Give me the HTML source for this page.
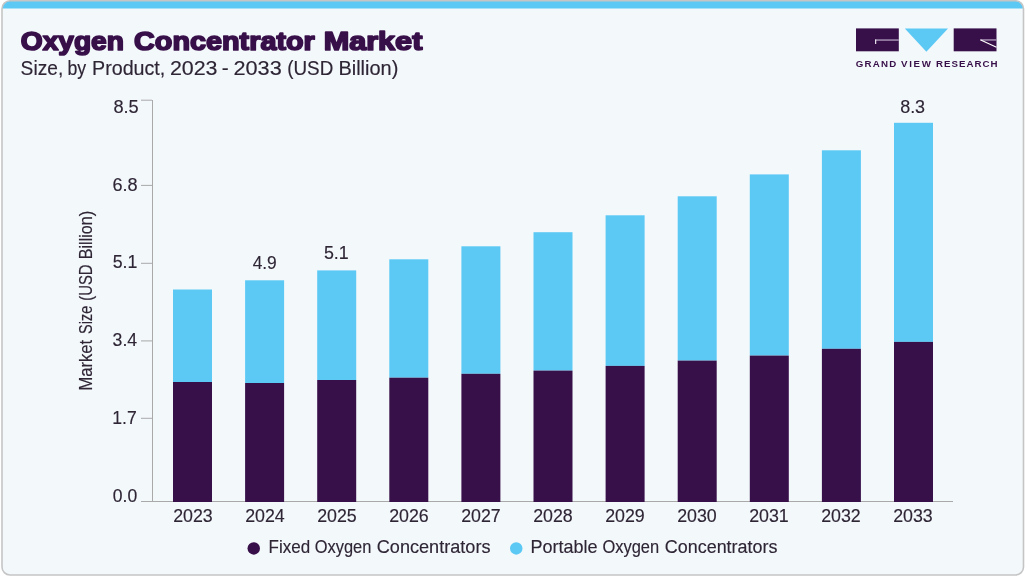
<!DOCTYPE html>
<html lang="en"><head><meta charset="utf-8"><title>Oxygen Concentrator Market</title>
<style>
html,body{margin:0;padding:0;background:#fff;}
body{width:1025px;height:576px;overflow:hidden;position:relative;font-family:"Liberation Sans",sans-serif;}
svg{position:absolute;left:0;top:0;}
text{font-family:"Liberation Sans",sans-serif;fill:#2e2535;}
.t{stroke:#2e2535;stroke-width:0.15px;}
.title{font-weight:bold;fill:#381049;stroke:#381049;stroke-width:1.7px;stroke-linejoin:round;}
.gvr{font-weight:bold;fill:#381049;}
</style></head><body>
<svg width="1025" height="576" viewBox="0 0 1025 576">
<defs><clipPath id="cp"><rect x="2" y="0.8" width="1021.5" height="574.2" rx="8" ry="8"/></clipPath></defs>
<rect x="2" y="0.8" width="1021.5" height="574.2" rx="8" ry="8" fill="#f3f8fb"/>
<rect x="0" y="0" width="1025" height="8.5" fill="#5cc9f5" clip-path="url(#cp)"/>
<rect x="2" y="0.8" width="1021.5" height="574.2" rx="8" ry="8" fill="none" stroke="#c5c5c5" stroke-width="1.6"/>
<rect x="152" y="100" width="1" height="401.5" fill="#a9a9a9"/>
<rect x="141" y="501" width="812" height="1" fill="#a9a9a9"/>
<rect x="141" y="99.7" width="11" height="1" fill="#a9a9a9"/>
<rect x="141" y="184.9" width="11" height="1" fill="#a9a9a9"/>
<rect x="141" y="262.8" width="11" height="1" fill="#a9a9a9"/>
<rect x="141" y="340.4" width="11" height="1" fill="#a9a9a9"/>
<rect x="141" y="417.8" width="11" height="1" fill="#a9a9a9"/>
<rect x="173.0" y="289.5" width="39" height="92.5" fill="#5cc9f5"/>
<rect x="173.0" y="382" width="39" height="120.0" fill="#381049"/>
<rect x="245.1" y="280.3" width="39" height="102.7" fill="#5cc9f5"/>
<rect x="245.1" y="383" width="39" height="119.0" fill="#381049"/>
<rect x="317.2" y="270.4" width="39" height="109.6" fill="#5cc9f5"/>
<rect x="317.2" y="380" width="39" height="122.0" fill="#381049"/>
<rect x="389.3" y="259.3" width="39" height="118.4" fill="#5cc9f5"/>
<rect x="389.3" y="377.7" width="39" height="124.3" fill="#381049"/>
<rect x="461.4" y="246.3" width="39" height="127.5" fill="#5cc9f5"/>
<rect x="461.4" y="373.8" width="39" height="128.2" fill="#381049"/>
<rect x="533.5" y="232.2" width="39" height="138.4" fill="#5cc9f5"/>
<rect x="533.5" y="370.6" width="39" height="131.4" fill="#381049"/>
<rect x="605.6" y="215.3" width="39" height="150.6" fill="#5cc9f5"/>
<rect x="605.6" y="365.9" width="39" height="136.1" fill="#381049"/>
<rect x="677.7" y="196.3" width="39" height="164.3" fill="#5cc9f5"/>
<rect x="677.7" y="360.6" width="39" height="141.4" fill="#381049"/>
<rect x="749.8" y="174.4" width="39" height="181.2" fill="#5cc9f5"/>
<rect x="749.8" y="355.6" width="39" height="146.4" fill="#381049"/>
<rect x="821.9" y="150.3" width="39" height="198.5" fill="#5cc9f5"/>
<rect x="821.9" y="348.8" width="39" height="153.2" fill="#381049"/>
<rect x="894.0" y="122.8" width="39" height="219.1" fill="#5cc9f5"/>
<rect x="894.0" y="341.9" width="39" height="160.1" fill="#381049"/>
<text transform="translate(113.43,112.9) scale(0.9867,1)" class="t" font-size="18.45">8.5</text>
<text transform="translate(112.45,190.8) scale(0.9819,1)" class="t" font-size="18.45">6.8</text>
<text transform="translate(112.75,267.9) scale(0.9620,1)" class="t" font-size="18.45">5.1</text>
<text transform="translate(112.55,345.9) scale(0.9589,1)" class="t" font-size="18.45">3.4</text>
<text transform="translate(112.30,423.9) scale(0.9559,1)" class="t" font-size="18.45">1.7</text>
<text transform="translate(112.75,501.9) scale(0.9508,1)" class="t" font-size="18.45">0.0</text>
<text transform="translate(192.95,521.8) scale(0.965,1)" text-anchor="middle" class="t" font-size="18.45">2023</text>
<text transform="translate(264.95,521.8) scale(0.965,1)" text-anchor="middle" class="t" font-size="18.45">2024</text>
<text transform="translate(336.95,521.8) scale(0.965,1)" text-anchor="middle" class="t" font-size="18.45">2025</text>
<text transform="translate(408.95,521.8) scale(0.965,1)" text-anchor="middle" class="t" font-size="18.45">2026</text>
<text transform="translate(480.95,521.8) scale(0.965,1)" text-anchor="middle" class="t" font-size="18.45">2027</text>
<text transform="translate(552.95,521.8) scale(0.965,1)" text-anchor="middle" class="t" font-size="18.45">2028</text>
<text transform="translate(624.95,521.8) scale(0.965,1)" text-anchor="middle" class="t" font-size="18.45">2029</text>
<text transform="translate(696.95,521.8) scale(0.965,1)" text-anchor="middle" class="t" font-size="18.45">2030</text>
<text transform="translate(768.95,521.8) scale(0.965,1)" text-anchor="middle" class="t" font-size="18.45">2031</text>
<text transform="translate(840.95,521.8) scale(0.965,1)" text-anchor="middle" class="t" font-size="18.45">2032</text>
<text transform="translate(912.95,521.8) scale(0.965,1)" text-anchor="middle" class="t" font-size="18.45">2033</text>
<text transform="translate(252.63,268.8) scale(0.9426,1)" class="t" font-size="18.45">4.9</text>
<text transform="translate(323.94,258.9) scale(0.9661,1)" class="t" font-size="18.45">5.1</text>
<text transform="translate(900.14,113.0) scale(0.9744,1)" class="t" font-size="18.45">8.3</text>
<text transform="translate(92.0,390.60) rotate(-90) scale(0.8784,1)" class="t" font-size="18.9">Market</text>
<text transform="translate(92.0,333.95) rotate(-90) scale(0.7681,1)" class="t" font-size="18.9">Size</text>
<text transform="translate(92.0,300.80) rotate(-90) scale(0.7882,1)" class="t" font-size="18.9">(USD</text>
<text transform="translate(92.0,259.26) rotate(-90) scale(0.8551,1)" class="t" font-size="18.9">Billion)</text>
<circle cx="253.75" cy="548.4" r="6.25" fill="#381049"/>
<circle cx="516.25" cy="548.4" r="6.25" fill="#5cc9f5"/>
<text transform="translate(268.57,552.75) scale(0.9070,1)" class="t" font-size="18.75">Fixed</text>
<text transform="translate(314.73,552.75) scale(0.8774,1)" class="t" font-size="18.75">Oxygen</text>
<text transform="translate(376.75,552.75) scale(0.9665,1)" class="t" font-size="18.75">Concentrators</text>
<text transform="translate(530.49,552.75) scale(0.9614,1)" class="t" font-size="18.75">Portable</text>
<text transform="translate(602.43,552.75) scale(0.8790,1)" class="t" font-size="18.75">Oxygen</text>
<text transform="translate(664.86,552.75) scale(0.9562,1)" class="t" font-size="18.75">Concentrators</text>
<text transform="translate(20.77,50.25) scale(1.0705,1)" class="title" font-size="26.293706293706297">Oxygen</text>
<text transform="translate(134.05,50.25) scale(1.0953,1)" class="title" font-size="26.293706293706297">Concentrator</text>
<text transform="translate(323.64,50.25) scale(1.1652,1)" class="title" font-size="26.293706293706297">Market</text>
<text transform="translate(20.60,74.7) scale(0.9784,1)" class="t" font-size="19.6">Size,</text>
<text transform="translate(67.49,74.7) scale(0.9037,1)" class="t" font-size="19.6">by</text>
<text transform="translate(92.06,74.7) scale(1.0043,1)" class="t" font-size="19.6">Product,</text>
<text transform="translate(169.90,74.7) scale(1.0934,1)" class="t" font-size="19.6">2023</text>
<text transform="translate(221.75,74.7) scale(1.0564,1)" class="t" font-size="19.6">-</text>
<text transform="translate(233.48,74.7) scale(1.1077,1)" class="t" font-size="19.6">2033</text>
<text transform="translate(287.22,74.7) scale(0.9609,1)" class="t" font-size="19.6">(USD</text>
<text transform="translate(338.44,74.7) scale(1.0182,1)" class="t" font-size="19.6">Billion)</text>
<rect x="856" y="28.4" width="42.8" height="22.9" fill="#381049"/>
<polygon points="904.8,28.4 948,28.4 926.4,51.7" fill="#5cc9f5"/>
<rect x="953.7" y="28.4" width="42.8" height="22.9" fill="#381049"/>
<path d="M875.1 40.05H898.8" fill="none" stroke="#b3a4c1" stroke-width="1.3"/>
<path d="M875.65 39.4V43.9" fill="none" stroke="#f1ebf5" stroke-width="1.15"/>
<path d="M981 39.95H996.5" fill="none" stroke="#b2a3c0" stroke-width="1.3"/>
<path d="M980.2 39.7L996.5 47.3" fill="none" stroke="#ffffff" stroke-width="1.1"/>
<text transform="translate(855.80,67) scale(1.08,1)" class="gvr" font-size="9.0" letter-spacing="1.112">GRAND</text>
<text transform="translate(901.00,67) scale(1.08,1)" class="gvr" font-size="9.0" letter-spacing="1.564">VIEW</text>
<text transform="translate(935.99,67) scale(1.08,1)" class="gvr" font-size="9.0" letter-spacing="0.939">RESEARCH</text>
</svg>
</body></html>
